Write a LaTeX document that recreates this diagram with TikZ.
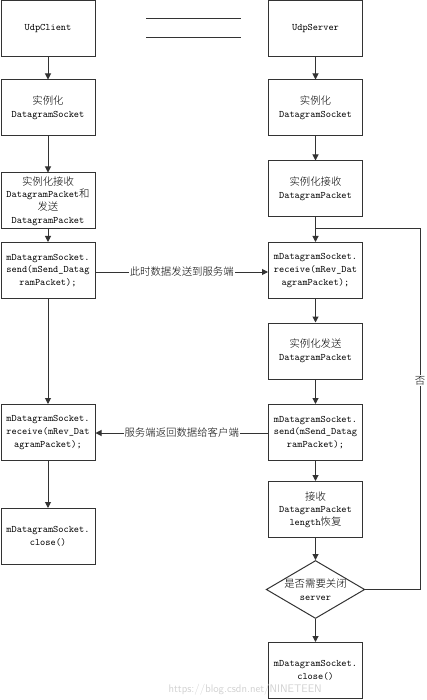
\documentclass[tikz,border=0pt]{standalone}
\usepackage{fontspec}
\newfontfamily\cjk{Noto Sans CJK SC Light}[Scale=1.05]
\usetikzlibrary{arrows.meta,shapes.geometric}
\tikzset{
  txt/.style={font=\ttfamily\fontsize{9.9}{12.6}\selectfont},
  box/.style={draw=black!80, line width=1pt, minimum width=94pt, minimum height=56pt, inner sep=1pt, align=center, txt},
  dia/.style={draw=black!80, line width=1pt, diamond, aspect=1.7, minimum width=94pt, minimum height=55pt, inner sep=0pt, align=center, txt},
  arr/.style={draw=black!80, line width=1pt, -{Triangle[length=6pt,width=6pt]}},
  ln/.style={draw=black!80, line width=1pt},
  lbl/.style={fill=white, inner sep=1pt, txt}
}
\begin{document}
\begin{tikzpicture}[x=1pt,y=-1pt]
\useasboundingbox (0,0) rectangle (426,700);
% left column
\node[box] (c1) at (48,28.8) {UdpClient};
\node[box] (c2) at (48,108) {{\cjk 实例化}\\DatagramSocket};
\node[box, font=\ttfamily\fontsize{9.9}{12.7}\selectfont] (c3) at (48,201) {{\cjk 实例化接收}\\DatagramPacket{\cjk 和}\\{\cjk 发送}\\DatagramPacket};
\node[box] (c4) at (48,270.5) {mDatagramSocket.\\send(mSend\_Datag\\ramPacket);};
\node[box] (c5) at (48,432.5) {mDatagramSocket.\\receive(mRev\_Dat\\agramPacket);};
\node[box] (c6) at (48,536.5) {mDatagramSocket.\\close()};
% right column
\node[box] (s1) at (315.5,28.8) {UdpServer};
\node[box] (s2) at (315.5,108) {{\cjk 实例化}\\DatagramSocket};
\node[box] (s3) at (315.5,189) {{\cjk 实例化接收}\\DatagramPacket};
\node[box] (s4) at (315.5,270.5) {mDatagramSocket.\\receive(mRev\_Dat\\agramPacket);};
\node[box] (s5) at (315.5,351) {{\cjk 实例化发送}\\DatagramPacket};
\node[box] (s6) at (315.5,432.5) {mDatagramSocket.\\send(mSend\_Datag\\ramPacket);};
\node[box] (s7) at (315.5,509.5) {{\cjk 接收}\\DatagramPacket\\length{\cjk 恢复}};
\node[dia] (d) at (315.5,589.5) {{\cjk 是否需要关闭}\\server};
\node[box] (s8) at (315.5,670.5) {mDatagramSocket.\\close()};
% top separator lines
\coordinate (t1) at (146,19);
\coordinate (t2) at (241,19);
\coordinate (t3) at (146,38);
\coordinate (t4) at (241,38);
\draw[ln] (t1) -- (t2);
\draw[ln] (t3) -- (t4);
% vertical arrows
\draw[arr] (c1) -- (c2);
\draw[arr] (c2) -- (c3);
\draw[arr] (c3) -- (c4);
\draw[arr] (c4) -- (c5);
\draw[arr] (c5) -- (c6);
\draw[arr] (s1) -- (s2);
\draw[arr] (s2) -- (s3);
\draw[arr] (s3) -- (s4);
\draw[arr] (s4) -- (s5);
\draw[arr] (s5) -- (s6);
\draw[arr] (s6) -- (s7);
\draw[arr] (s7) -- (d);
\draw[arr] (d) -- (s8);
% horizontal messages
\draw[arr] (c4.east |- 0,272) -- node[lbl] {\cjk 此时数据发送到服务端} (s4.west |- 0,272);
\draw[arr] (s6.west |- 0,433) -- node[lbl] {\cjk 服务端返回数据给客户端} (c5.east |- 0,433);
% loop back
\coordinate (lp1) at (420,589.5);
\coordinate (lp2) at (420,229);
\coordinate (lp3) at (315.5,229);
\draw[ln] (d.east) -- (lp1) -- node[lbl, pos=0.58] {\cjk 否} (lp2) -- (lp3);
% watermark
\node[text=black!18, font=\sffamily\fontsize{11}{11}\selectfont, anchor=west] (wm) at (165,690) {https://blog.csdn.net/NINETEEN};
\end{tikzpicture}
\end{document}
